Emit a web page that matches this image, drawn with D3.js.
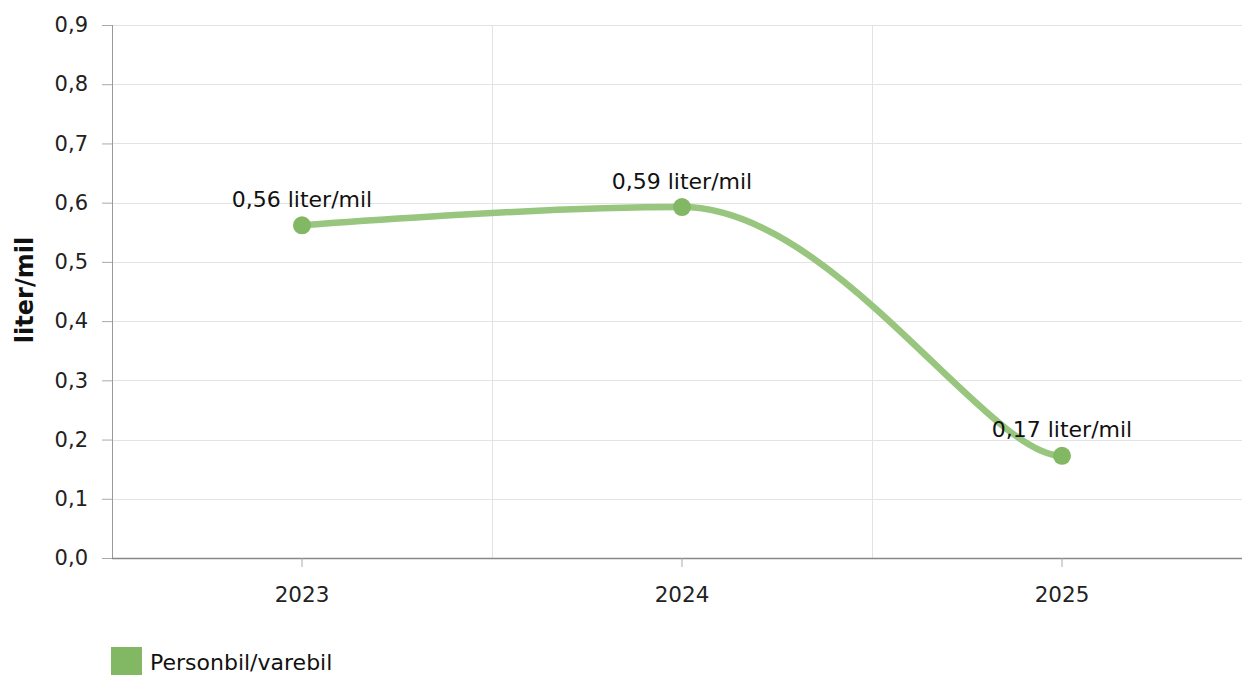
<!DOCTYPE html>
<html><head><meta charset="utf-8">
<script src="https://cdn.jsdelivr.net/npm/d3@7"></script>
<style>
body{margin:0;background:#fff;}
text{font-family:"DejaVu Sans",Verdana,sans-serif;}
</style></head><body>
<svg id="c" width="1242" height="675"></svg>
<script>
const categories = ["2023","2024","2025"];
const values = [0.5617, 0.5925, 0.1725];
const labels = ["0,56 liter/mil","0,59 liter/mil","0,17 liter/mil"];
const yTicks = [0,0.1,0.2,0.3,0.4,0.5,0.6,0.7,0.8,0.9];
const seriesName = "Personbil/varebil";
const yTitle = "liter/mil";

// Highcharts-like spline curve for d3.line
function SplineCurve(context){ this._context = context; }
SplineCurve.prototype = {
  areaStart(){ this._line = 0; }, areaEnd(){ this._line = NaN; },
  lineStart(){ this._pts = []; },
  point(x,y){ this._pts.push([+x,+y]); },
  lineEnd(){
    const p = this._pts, n = p.length, c = this._context, sm = 1.5, den = 2.5;
    if (!n) return;
    const L = p.map(d=>[d[0],d[1]]), R = p.map(d=>[d[0],d[1]]);
    for (let i=1;i<n-1;i++){
      const [x,y]=p[i],[lx,ly]=p[i-1],[nx,ny]=p[i+1];
      let lcx=(sm*x+lx)/den, lcy=(sm*y+ly)/den, rcx=(sm*x+nx)/den, rcy=(sm*y+ny)/den;
      const corr=((rcy-lcy)*(rcx-x))/(rcx-lcx)+y-rcy; lcy+=corr; rcy+=corr;
      if (lcy>ly&&lcy>y){lcy=Math.max(ly,y);rcy=2*y-lcy;} else if(lcy<ly&&lcy<y){lcy=Math.min(ly,y);rcy=2*y-lcy;}
      if (rcy>ny&&rcy>y){rcy=Math.max(ny,y);lcy=2*y-rcy;} else if(rcy<ny&&rcy<y){rcy=Math.min(ny,y);lcy=2*y-rcy;}
      L[i]=[lcx,lcy]; R[i]=[rcx,rcy];
    }
    if (n>1){ L[n-1]=[p[n-1][0]-0.2*(p[n-1][0]-p[n-2][0]), p[n-1][1]]; }
    c.moveTo(p[0][0],p[0][1]);
    for (let i=1;i<n;i++) c.bezierCurveTo(R[i-1][0],R[i-1][1],L[i][0],L[i][1],p[i][0],p[i][1]);
  }
};
const curveSpline = ctx => new SplineCurve(ctx);

(function(){
const svg = d3.select("#c");
const pL=112, pR=1252, pT=25, pB=558;
const x = d3.scaleBand().domain(categories).range([pL,pR]);
const y = d3.scaleLinear().domain([0,0.9]).range([pB,pT]);
const fmt = v => d3.format(".1f")(v).replace(".",",");

svg.append("g").selectAll("line").data(yTicks.filter(d=>d>0)).join("line")
  .attr("x1",pL).attr("x2",1242).attr("y1",d=>Math.round(y(d))+0.5).attr("y2",d=>Math.round(y(d))+0.5)
  .attr("stroke","#e3e3e3").attr("stroke-width",1);
svg.append("g").selectAll("line").data(categories.slice(1)).join("line")
  .attr("x1",d=>x(d)+0.5).attr("x2",d=>x(d)+0.5).attr("y1",pT).attr("y2",pB)
  .attr("stroke","#e3e3e3").attr("stroke-width",1);

const ya = svg.append("g").attr("transform",`translate(${pL},0)`)
  .call(d3.axisLeft(y).tickValues(yTicks).tickFormat(fmt).tickSize(10).tickPadding(14));
ya.select(".domain").attr("stroke","#999").attr("d",`M0.5,${pT}V${pB}`);
ya.selectAll(".tick line").attr("stroke","#aaa");
ya.selectAll("text").attr("font-size",21).attr("fill","#222").attr("font-family","DejaVu Sans");

const xa = svg.append("g").attr("transform",`translate(0,${pB})`)
  .call(d3.axisBottom(x).tickSizeOuter(0).tickSize(9).tickPadding(20));
xa.select(".domain").attr("stroke","#888").attr("stroke-width",1.5).attr("d",`M${pL},0.5H1242`);
xa.selectAll(".tick line").attr("stroke","#aaa");
xa.selectAll("text").attr("font-size",21.5).attr("fill","#222").attr("font-family","DejaVu Sans");

svg.append("text").attr("transform",`translate(33,290) rotate(-90)`)
  .attr("text-anchor","middle").attr("font-size",24).attr("font-weight","bold").attr("fill","#111").text(yTitle);

const pts = categories.map((c,i)=>[x(c)+x.bandwidth()/2, y(values[i])]);
svg.append("path").datum(pts)
  .attr("d", d3.line().curve(curveSpline))
  .attr("fill","none").attr("stroke","#98c67e").attr("stroke-width",6.5).attr("stroke-linecap","round");
svg.append("g").selectAll("circle").data(pts).join("circle")
  .attr("cx",d=>d[0]).attr("cy",d=>d[1]).attr("r",9).attr("fill","#82b764");
svg.append("g").selectAll("text").data(pts).join("text")
  .attr("x",d=>d[0]).attr("y",d=>d[1]-18.5).attr("text-anchor","middle")
  .attr("font-size",22).attr("fill","#111").text((d,i)=>labels[i]);

svg.append("rect").attr("x",111).attr("y",647).attr("width",31).attr("height",28).attr("fill","#82b764");
svg.append("text").attr("x",150).attr("y",669.5).attr("font-size",22).attr("fill","#111").text(seriesName);
})();
</script></body></html>
